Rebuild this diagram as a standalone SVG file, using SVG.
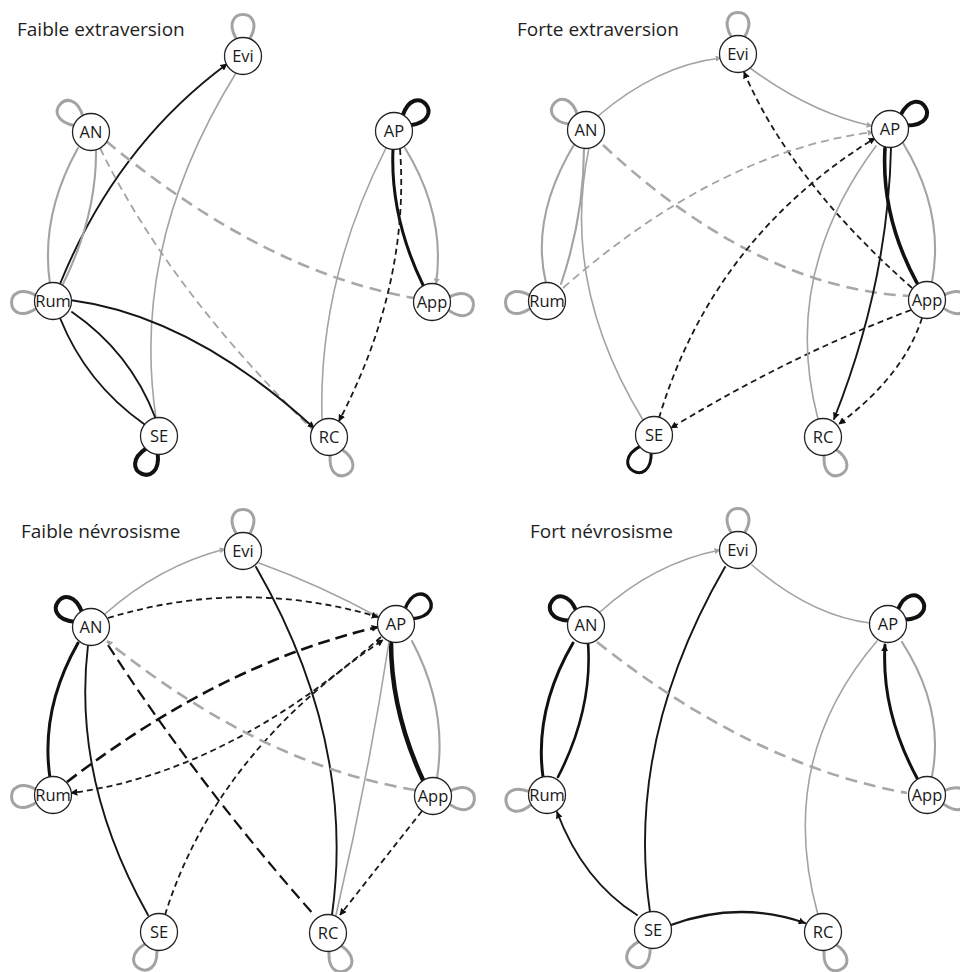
<svg xmlns="http://www.w3.org/2000/svg" width="960" height="972" viewBox="0 0 960 972">
<defs>
<style>
.bg{fill:#ffffff}
.e{fill:none;stroke-linecap:round}
.g{stroke:#a3a3a3;stroke-width:1.6}
.gm{stroke:#a3a3a3;stroke-width:2.1}
.gl{stroke:#a8a8a8;stroke-width:2.6;stroke-dasharray:12 7;stroke-linecap:butt}
.gd{stroke:#a3a3a3;stroke-width:1.8;stroke-dasharray:8 5;stroke-linecap:butt}
.k{stroke:#161616;stroke-width:1.9}
.kt{stroke:#111;stroke-width:3}
.kx{stroke:#111;stroke-width:4.5}
.kd{stroke:#1a1a1a;stroke-width:1.8;stroke-dasharray:6 4;stroke-linecap:butt}
.kl{stroke:#111;stroke-width:2.6;stroke-dasharray:12 6;stroke-linecap:butt}
.lg{fill:none;stroke:#a3a3a3;stroke-width:3}
.lk{fill:none;stroke:#111;stroke-width:4}
.n circle{fill:#ffffff;stroke:#222;stroke-width:1.3}
.n text{font-family:"Open Sans","Noto Sans",sans-serif;font-size:16.5px;fill:#1a1a1a;text-anchor:middle}
.t{font-family:"Open Sans","Noto Sans",sans-serif;font-size:19px;fill:#1e1e1e}
</style>
<path id="loop" d="M-6,-16 C-27,-50 27,-50 6,-16"/>
<marker id="ak" viewBox="0 0 10 10" refX="9" refY="5" markerWidth="7" markerHeight="7" markerUnits="userSpaceOnUse" orient="auto"><path d="M0,0 L10,5 L0,10 z" fill="#111"/></marker>
<marker id="ag" viewBox="0 0 10 10" refX="9" refY="5" markerWidth="6" markerHeight="6" markerUnits="userSpaceOnUse" orient="auto"><path d="M0,0 L10,5 L0,10 z" fill="#a3a3a3"/></marker>
</defs>
<rect class="bg" x="0" y="0" width="960" height="972"/>

<g id="titles">
<text class="t" x="17" y="36">Faible extraversion</text>
<text class="t" x="517" y="36">Forte extraversion</text>
<text class="t" x="21" y="538">Faible névrosisme</text>
<text class="t" x="530" y="538">Fort névrosisme</text>
</g>

<g id="connectors">
<!-- Panel 1 -->
<g id="p1-edges">
<use href="#loop" class="lg" transform="translate(243,56) rotate(0)"/>
<use href="#loop" class="lg" transform="translate(91,132) rotate(-48)"/>
<use href="#loop" class="lk" transform="translate(394,131) rotate(50)"/>
<use href="#loop" class="lg" transform="translate(53,301) rotate(-93)"/>
<use href="#loop" class="lg" transform="translate(432,302) rotate(95)"/>
<use href="#loop" class="lk" transform="translate(159,436) rotate(-155)"/>
<use href="#loop" class="lg" transform="translate(329,437) rotate(155)"/>
<path class="e k" d="M60,284 Q116,146 227,64" marker-end="url(#ak)"/>
<path class="e g" d="M236,73 Q130,244 156,418"/>
<path class="e gm" d="M78,148 Q40,216 50,284"/>
<path class="e gm" d="M63,284 Q97,215 96,149"/>
<path class="e gd" d="M100,148 Q170,291 313,430"/>
<path class="e gl" d="M106,141 Q264,272 414,298"/>
<path class="e g" d="M386,148 Q318,282 322,419"/>
<path class="e kt" d="M393,149 Q390,217 423,285"/>
<path class="e gm" d="M405,148 Q446,215 436,284" marker-end="url(#ag)"/>
<path class="e kd" d="M400,149 Q410,285 339,421" marker-end="url(#ak)"/>
<path class="e k" d="M70,300 Q192,316 314,428" marker-end="url(#ak)"/>
<path class="e k" d="M60,318 Q86,383 144,424"/>
<path class="e k" d="M72,312 Q130,352 155,417"/>
</g>
<!-- Panel 2 -->
<g id="p2-edges">
<use href="#loop" class="lg" transform="translate(738,54) rotate(0)"/>
<use href="#loop" class="lg" transform="translate(586,130) rotate(-50)"/>
<use href="#loop" class="lk" transform="translate(890,129) rotate(58)"/>
<use href="#loop" class="lg" transform="translate(547,301) rotate(-93)"/>
<use href="#loop" class="lg" transform="translate(927,300) rotate(95)"/>
<use href="#loop" class="lk" transform="translate(654,435) rotate(-150)" style="stroke-width:3"/>
<use href="#loop" class="lg" transform="translate(823,437) rotate(155)"/>
<path class="e g" d="M598,116 Q658,65 721,58" marker-end="url(#ag)"/>
<path class="e g" d="M750,68 Q811,113 872,126" marker-end="url(#ag)"/>
<path class="e kd" d="M912,288 Q790,180 744,72" marker-end="url(#ak)"/>
<path class="e gm" d="M575,143 Q530,217 546,283"/>
<path class="e gm" d="M584,148 Q584,216 561,284"/>
<path class="e g" d="M589,148 Q560,284 643,420"/>
<path class="e gl" d="M603,145 Q756,288 910,296"/>
<path class="e gd" d="M563,288 Q718,152 873,132" marker-end="url(#ag)"/>
<path class="e kd" d="M659,418 Q713,238 875,138" marker-end="url(#ak)"/>
<path class="e kd" d="M911,310 Q791,355 671,428" marker-end="url(#ak)"/>
<path class="e k" d="M891,148 Q888,283 834,419" marker-end="url(#ak)"/>
<path class="e kt" d="M885,148 Q881,217 917,283" style="stroke-width:3.6"/>
<path class="e gm" d="M903,143 Q945,212 932,282"/>
<path class="e g" d="M876,146 Q780,275 818,419"/>
<path class="e kd" d="M922,318 Q904,375 839,424" marker-end="url(#ak)"/>
</g>
<!-- Panel 3 -->
<g id="p3-edges">
<use href="#loop" class="lg" transform="translate(243,551) rotate(0)"/>
<use href="#loop" class="lk" transform="translate(91,627) rotate(-52)"/>
<use href="#loop" class="lk" transform="translate(396,624) rotate(52)" style="stroke-width:3.4"/>
<use href="#loop" class="lg" transform="translate(53,795) rotate(-93)"/>
<use href="#loop" class="lg" transform="translate(433,796) rotate(95)"/>
<use href="#loop" class="lg" transform="translate(159,932) rotate(-152)"/>
<use href="#loop" class="lg" transform="translate(328,933) rotate(155)"/>
<path class="e g" d="M105,614 Q159,566 225,549" marker-end="url(#ag)"/>
<path class="e g" d="M259,563 Q320,585 380,618" marker-end="url(#ag)"/>
<path class="e k" d="M256,567 Q356,741 332,915"/>
<path class="e kd" d="M108,618 Q243,577 378,617" marker-end="url(#ak)"/>
<path class="e kl" d="M67,782 Q222,663 378,627" marker-end="url(#ak)"/>
<path class="e kd" d="M381,637 Q226,773 71,793" marker-end="url(#ak)"/>
<path class="e kd" d="M165,915 Q216,752 383,640" marker-end="url(#ak)"/>
<path class="e kt" d="M78,643 Q40,710 50,778"/>
<path class="e k" d="M88,645 Q72,780 148,915"/>
<path class="e kl" d="M108,645 Q195,780 314,915" style="stroke-width:2.2"/>
<path class="e gl" d="M415,790 Q261,765 107,641" marker-end="url(#ag)"/>
<path class="e kx" d="M391,642 Q391,711 423,780"/>
<path class="e gm" d="M412,641 Q448,709 437,778"/>
<path class="e g" d="M389,642 Q368,778 336,915"/>
<path class="e kd" d="M422,811 Q381,863 340,915" marker-end="url(#ak)"/>
</g>
<!-- Panel 4 -->
<g id="p4-edges">
<use href="#loop" class="lg" transform="translate(738,550) rotate(0)"/>
<use href="#loop" class="lk" transform="translate(586,625) rotate(-55)"/>
<use href="#loop" class="lk" transform="translate(888,624) rotate(55)"/>
<use href="#loop" class="lg" transform="translate(547,795) rotate(-100)"/>
<use href="#loop" class="lg" transform="translate(927,795) rotate(97)"/>
<use href="#loop" class="lg" transform="translate(653,930) rotate(-150)"/>
<use href="#loop" class="lg" transform="translate(823,932) rotate(155)"/>
<path class="e g" d="M600,612 Q654,563 720,550" marker-end="url(#ag)"/>
<path class="e g" d="M752,565 Q811,616 870,623"/>
<path class="e k" d="M650,912 Q625,740 725,567"/>
<path class="e kt" d="M573,643 Q534,710 543,777"/>
<path class="e kt" d="M588,642 Q593,709 558,777" style="stroke-width:2.6"/>
<path class="e gl" d="M597,642 Q752,765 907,793"/>
<path class="e k" d="M637,915 Q583,881 557,812" marker-end="url(#ak)"/>
<path class="e k" d="M671,925 Q738,900 805,923" style="stroke-width:2.3" marker-end="url(#ak)"/>
<path class="e g" d="M877,641 Q775,760 818,915"/>
<path class="e kt" d="M917,778 Q881,711 885,645" marker-end="url(#ak)"/>
<path class="e gm" d="M902,642 Q945,709 932,776"/>
</g>
</g>

<g id="p1-nodes">
<g id="p1-Evi" class="n"><circle cx="243" cy="56" r="18.5"/><text x="243" y="62">Evi</text></g>
<g id="p1-AN" class="n"><circle cx="91" cy="132" r="18.5"/><text x="91" y="138">AN</text></g>
<g id="p1-AP" class="n"><circle cx="394" cy="131" r="18.5"/><text x="394" y="137">AP</text></g>
<g id="p1-Rum" class="n"><circle cx="53" cy="301" r="18.5"/><text x="53" y="307">Rum</text></g>
<g id="p1-App" class="n"><circle cx="432" cy="302" r="18.5"/><text x="432" y="308">App</text></g>
<g id="p1-SE" class="n"><circle cx="159" cy="436" r="18.5"/><text x="159" y="442">SE</text></g>
<g id="p1-RC" class="n"><circle cx="329" cy="437" r="18.5"/><text x="329" y="443">RC</text></g>
</g>
<g id="p2-nodes">
<g id="p2-Evi" class="n"><circle cx="738" cy="54" r="18.5"/><text x="738" y="60">Evi</text></g>
<g id="p2-AN" class="n"><circle cx="586" cy="130" r="18.5"/><text x="586" y="136">AN</text></g>
<g id="p2-AP" class="n"><circle cx="890" cy="129" r="18.5"/><text x="890" y="135">AP</text></g>
<g id="p2-Rum" class="n"><circle cx="547" cy="301" r="18.5"/><text x="547" y="307">Rum</text></g>
<g id="p2-App" class="n"><circle cx="927" cy="300" r="18.5"/><text x="927" y="306">App</text></g>
<g id="p2-SE" class="n"><circle cx="654" cy="435" r="18.5"/><text x="654" y="441">SE</text></g>
<g id="p2-RC" class="n"><circle cx="823" cy="437" r="18.5"/><text x="823" y="443">RC</text></g>
</g>
<g id="p3-nodes">
<g id="p3-Evi" class="n"><circle cx="243" cy="551" r="18.5"/><text x="243" y="557">Evi</text></g>
<g id="p3-AN" class="n"><circle cx="91" cy="627" r="18.5"/><text x="91" y="633">AN</text></g>
<g id="p3-AP" class="n"><circle cx="396" cy="624" r="18.5"/><text x="396" y="630">AP</text></g>
<g id="p3-Rum" class="n"><circle cx="53" cy="795" r="18.5"/><text x="53" y="801">Rum</text></g>
<g id="p3-App" class="n"><circle cx="433" cy="796" r="18.5"/><text x="433" y="802">App</text></g>
<g id="p3-SE" class="n"><circle cx="159" cy="932" r="18.5"/><text x="159" y="938">SE</text></g>
<g id="p3-RC" class="n"><circle cx="328" cy="933" r="18.5"/><text x="328" y="939">RC</text></g>
</g>
<g id="p4-nodes">
<g id="p4-Evi" class="n"><circle cx="738" cy="550" r="18.5"/><text x="738" y="556">Evi</text></g>
<g id="p4-AN" class="n"><circle cx="586" cy="625" r="18.5"/><text x="586" y="631">AN</text></g>
<g id="p4-AP" class="n"><circle cx="888" cy="624" r="18.5"/><text x="888" y="630">AP</text></g>
<g id="p4-Rum" class="n"><circle cx="547" cy="795" r="18.5"/><text x="547" y="801">Rum</text></g>
<g id="p4-App" class="n"><circle cx="927" cy="795" r="18.5"/><text x="927" y="801">App</text></g>
<g id="p4-SE" class="n"><circle cx="653" cy="930" r="18.5"/><text x="653" y="936">SE</text></g>
<g id="p4-RC" class="n"><circle cx="823" cy="932" r="18.5"/><text x="823" y="938">RC</text></g>
</g>
</svg>
